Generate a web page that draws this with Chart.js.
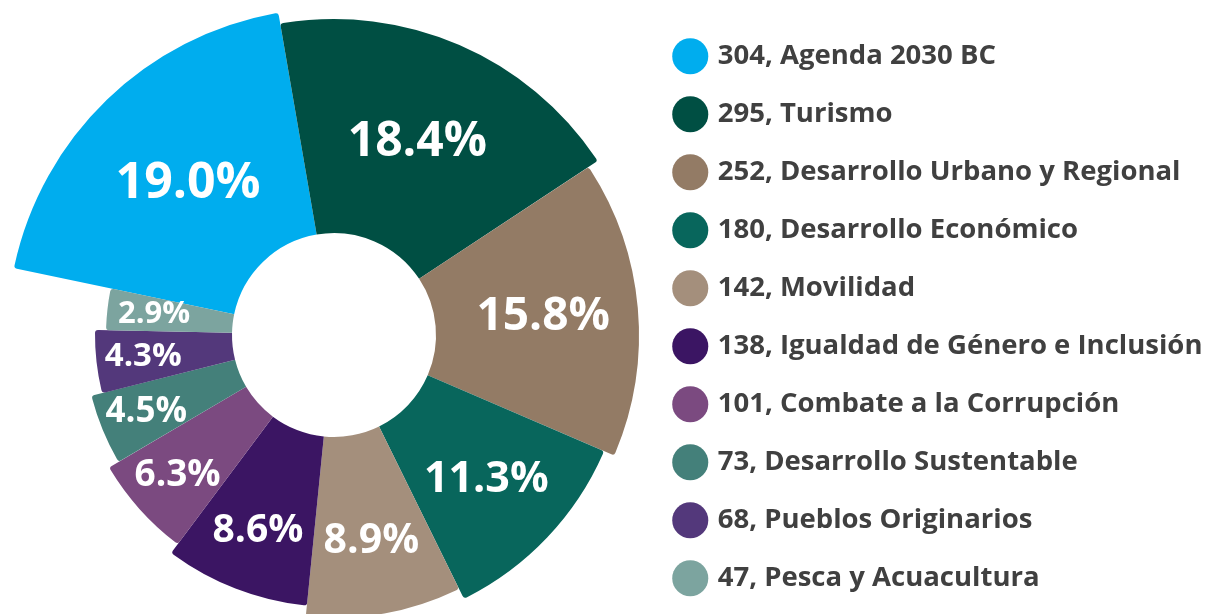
<!DOCTYPE html>
<html>
<head>
<meta charset="utf-8">
<script src="https://cdn.jsdelivr.net/npm/chart.js@4.4.0/dist/chart.umd.min.js"></script>
<style>
    html, body { margin: 0; padding: 0; background: #fff; overflow: hidden; }
    #wrap { position: absolute; left: 0; top: 0; width: 1218px; height: 658px; }
</style>
</head>
<body>
<div id="wrap"><canvas id="chart"></canvas></div>
<script>
const categories = ['Agenda 2030 BC', 'Turismo', 'Desarrollo Urbano y Regional', 'Desarrollo Económico',
    'Movilidad', 'Igualdad de Género e Inclusión', 'Combate a la Corrupción', 'Desarrollo Sustentable',
    'Pueblos Originarios', 'Pesca y Acuacultura'];
const counts = [304, 295, 252, 180, 142, 138, 101, 73, 68, 47];
const shares = [19.0, 18.4, 15.8, 11.3, 8.9, 8.6, 6.3, 4.5, 4.3, 2.9];

const colors = ['#00adee', '#004f43', '#937b65', '#08665c', '#a48f7c', '#3b1563', '#7b4a80', '#44807a', '#53387b', '#7ca49f'];

// ring sizes (px)
const INNER_R = 102;
const OUTER_MAX = 327;
const OUTER_STEP = 11;

// every slice gets a bit shorter than the one before it
const ringSizes = {
    id: 'ringSizes',
    afterDatasetsUpdate(chart) {
        chart.getDatasetMeta(0).data.forEach((arc, i) => {
            arc.innerRadius = INNER_R;
            arc.outerRadius = OUTER_MAX - OUTER_STEP * i;
        });
    }
};

// percentage text inside each slice
const sliceLabels = {
    id: 'sliceLabels',
    afterDatasetsDraw(chart) {
        const ctx = chart.ctx;
        chart.getDatasetMeta(0).data.forEach((arc, i) => {
            const mid = (arc.startAngle + arc.endAngle) / 2;
            const r = Math.min(210, arc.outerRadius - 47);
            const size = Math.round(6 + (arc.outerRadius - arc.innerRadius) * 0.195);
            ctx.save();
            ctx.font = '700 ' + size + 'px "Open Sans"';
            ctx.fillStyle = '#ffffff';
            ctx.textAlign = 'center';
            ctx.textBaseline = 'middle';
            ctx.fillText(shares[i].toFixed(1) + '%', arc.x + Math.cos(mid) * r, arc.y + Math.sin(mid) * r);
            ctx.restore();
        });
    }
};

// fixed legend width so the ring sits on the left
const legendWidth = {
    id: 'legendWidth',
    afterInit(chart) {
        const fit = chart.legend.fit;
        chart.legend.fit = function () {
            fit.call(this);
            this.width = 572;
        };
    }
};

const ctx = document.getElementById('chart').getContext('2d');
const chart = new Chart(ctx, {
    type: 'doughnut',
    data: {
        labels: categories,
        datasets: [{
            data: counts,
            backgroundColor: colors,
            borderWidth: 0,
            borderRadius: { outerStart: 3, outerEnd: 3, innerStart: 0, innerEnd: 0 },
            clip: false
        }]
    },
    options: {
        responsive: true,
        maintainAspectRatio: false,
        animation: false,
        events: [],
        rotation: -78.2,
        cutout: INNER_R,
        layout: {
            padding: { left: 22, top: 12, right: 0, bottom: 0 }
        },
        plugins: {
            tooltip: { enabled: false },
            legend: {
                position: 'right',
                align: 'start',
                labels: {
                    usePointStyle: true,
                    pointStyle: 'circle',
                    boxHeight: 25.5,
                    padding: 30.5,
                    color: '#404040',
                    font: { family: 'Open Sans', size: 27.5, weight: '700' },
                    generateLabels(chart) {
                        const items = Chart.overrides.doughnut.plugins.legend.labels.generateLabels(chart);
                        items.forEach((item, i) => {
                            item.text = counts[i] + ', ' + categories[i];
                            item.lineWidth = 0;
                        });
                        return items;
                    }
                }
            }
        }
    },
    plugins: [ringSizes, sliceLabels, legendWidth]
});
</script>
</body>
</html>
